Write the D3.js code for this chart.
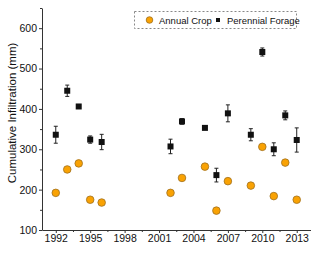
<!DOCTYPE html>
<html><head><meta charset="utf-8">
<script src="https://cdn.jsdelivr.net/npm/d3@7"></script>
<style>body{margin:0;background:#fff}svg{display:block}text{font-family:"Liberation Sans",Arial,sans-serif}</style>
</head><body>
<svg id="c" width="320" height="253"></svg>
<script>
const annualYears = [1992,1993,1994,1995,1996,2002,2003,2005,2006,2007,2009,2010,2011,2012,2013];
const annualValues = [192,250,265,175,168,192,229,257,148,221,210,306,184,267,175];
const perennialYears = [1992,1993,1994,1995,1996,2002,2003,2005,2006,2007,2009,2010,2011,2012,2013];
const perennialValues = [336,445,406,324,318,307,369,353,236,389,336,541,300,384,323];
const perennialErrors = [21,14,5,9,19,18,7,3,17,21,15,10,16,11,30];
const xTicks = [1992,1995,1998,2001,2004,2007,2010,2013];
const yTicks = [100,200,300,400,500,600];
const seriesNames = ["Annual Crop","Perennial Forage"];
const yLabel = "Cumulative Infiltration (mm)";

const svg = d3.select("#c");
const x = d3.scaleLinear().domain([1990.8,2014.2]).range([42,310.5]);
const y = d3.scaleLinear().domain([100,650]).range([230,8]);

const xMinor = d3.range(1990.5,2014.5,1.5).filter(v=>!xTicks.includes(v));
const yMinor = d3.range(150,651,100);

const gx = svg.append("g").attr("transform","translate(0,230)");
gx.call(d3.axisBottom(x).tickValues(xTicks).tickFormat(d3.format("d")).tickSize(3).tickPadding(2).tickSizeOuter(0));
gx.append("g").call(d3.axisBottom(x).tickValues(xMinor.filter(v=>v>1990.8&&v<2014.2)).tickFormat("").tickSize(2).tickSizeOuter(0)).select(".domain").remove();
const gy = svg.append("g").attr("transform","translate(42,0)");
gy.call(d3.axisLeft(y).tickValues(yTicks).tickSize(3).tickPadding(2).tickSizeOuter(0));
gy.append("g").call(d3.axisLeft(y).tickValues(yMinor).tickFormat("").tickSize(2).tickSizeOuter(0)).select(".domain").remove();
svg.selectAll(".domain").attr("stroke","#333");
svg.selectAll(".tick line").attr("stroke","#333");
svg.selectAll(".tick text").attr("font-size",10.5).attr("fill","#111").attr("font-family","Liberation Sans");

svg.append("text").attr("transform","translate(16,113) rotate(-90)").attr("text-anchor","middle")
  .attr("font-size",11.5).attr("fill","#111").text(yLabel);

const per = perennialYears.map((d,i)=>({x:d,v:perennialValues[i],e:perennialErrors[i]}));
const eb = svg.append("g").attr("stroke","#222").attr("stroke-width",1);
per.forEach(d=>{
  const cx = x(d.x);
  eb.append("line").attr("x1",cx).attr("x2",cx).attr("y1",y(d.v+d.e)).attr("y2",y(d.v-d.e));
  eb.append("line").attr("x1",cx-2).attr("x2",cx+2).attr("y1",y(d.v+d.e)).attr("y2",y(d.v+d.e));
  eb.append("line").attr("x1",cx-2).attr("x2",cx+2).attr("y1",y(d.v-d.e)).attr("y2",y(d.v-d.e));
});
svg.append("g").selectAll("rect").data(per).join("rect")
  .attr("x",d=>x(d.x)-3).attr("y",d=>y(d.v)-3).attr("width",6).attr("height",6).attr("fill","#111");

const ann = annualYears.map((d,i)=>({x:d,v:annualValues[i]}));
svg.append("g").selectAll("circle").data(ann).join("circle")
  .attr("cx",d=>x(d.x)).attr("cy",d=>y(d.v)).attr("r",3.8)
  .attr("fill","#f9a203").attr("stroke","#a07020").attr("stroke-width",0.8);

const lg = svg.append("g");
lg.append("rect").attr("x",134.5).attr("y",11.5).attr("width",162).attr("height",17)
  .attr("fill","#fff").attr("stroke","#888").attr("stroke-dasharray","2,2");
lg.append("circle").attr("cx",149.5).attr("cy",20).attr("r",3.3).attr("fill","#f9a203").attr("stroke","#a07020").attr("stroke-width",0.8);
lg.append("text").attr("x",159).attr("y",23.5).attr("font-size",9.5).attr("fill","#111").text(seriesNames[0]);
lg.append("rect").attr("x",216).attr("y",18).attr("width",4).attr("height",4).attr("fill","#111");
lg.append("text").attr("x",227).attr("y",23.5).attr("font-size",9.5).attr("fill","#111").text(seriesNames[1]);
</script>
</body></html>
